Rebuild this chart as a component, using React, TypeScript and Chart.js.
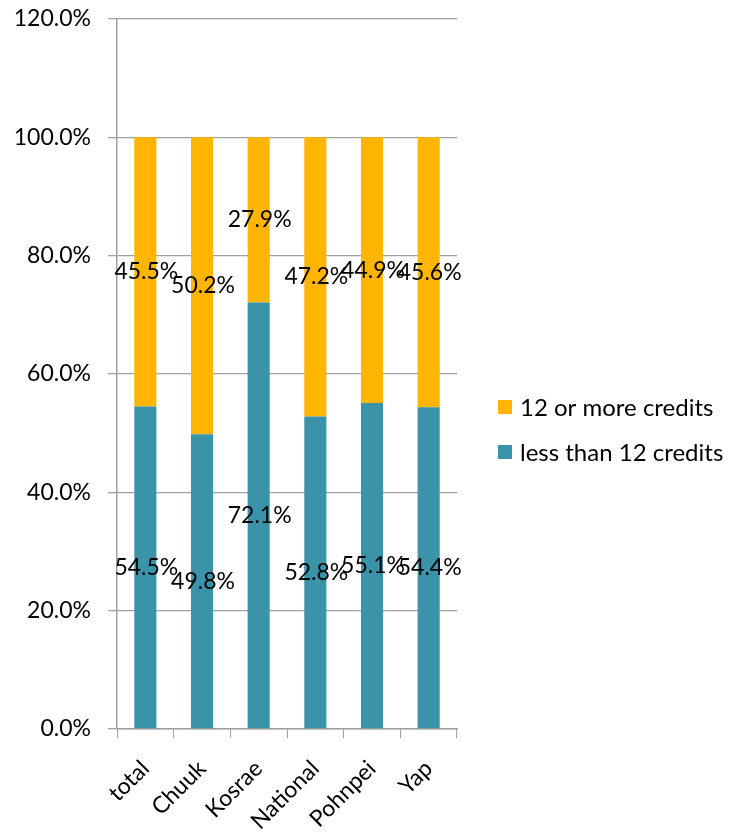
import React, { useEffect, useRef } from "react";
import { Chart, registerables } from "chart.js";

Chart.register(...registerables);

const categories = ["total", "Chuuk", "Kosrae", "National", "Pohnpei", "Yap"];
const lessThan12 = [54.5, 49.8, 72.1, 52.8, 55.1, 54.4];
const twelveOrMore = [45.5, 50.2, 27.9, 47.2, 44.9, 45.6];
const seriesNames = ["less than 12 credits", "12 or more credits"];
const seriesColors = ["#3A93A9", "#FFB502"];

const FONT = "Lato, 'Open Sans', sans-serif";
const FS = 23;

const labelPlugin = {
  id: "segLabels",
  afterDatasetsDraw(chart: any) {
    const ctx = chart.ctx;
    ctx.save();
    ctx.font = `${FS}px ${FONT}`;
    ctx.fillStyle = "#000";
    ctx.textAlign = "center";
    ctx.textBaseline = "middle";
    chart.data.datasets.forEach((ds: any, di: number) => {
      const meta = chart.getDatasetMeta(di);
      meta.data.forEach((el: any, i: number) => {
        const v = ds.data[i];
        const y = (el.y + el.base) / 2;
        ctx.fillText(v.toFixed(1) + "%", el.x + 1, y);
      });
    });
    ctx.restore();
  },
};

const legendPlugin = {
  id: "customLegend",
  afterDraw(chart: any) {
    const ctx = chart.ctx;
    ctx.save();
    ctx.font = `${FS + 1}px ${FONT}`;
    ctx.textBaseline = "middle";
    ctx.textAlign = "left";
    const items = [
      { name: seriesNames[1], color: seriesColors[1], y: 399 },
      { name: seriesNames[0], color: seriesColors[0], y: 444 },
    ];
    items.forEach((it) => {
      ctx.fillStyle = it.color;
      ctx.fillRect(490, it.y - 7, 14, 14);
      ctx.fillStyle = "#000";
      ctx.fillText(it.name, 512, it.y + 1);
    });
    ctx.restore();
  },
};

export default function App() {
  const ref = useRef<HTMLCanvasElement | null>(null);
  useEffect(() => {
    if (!ref.current) return;
    const chart = new Chart(ref.current, {
      type: "bar",
      data: {
        labels: categories,
        datasets: [
          {
            label: seriesNames[0],
            data: lessThan12,
            backgroundColor: seriesColors[0],
            barPercentage: 0.39,
            categoryPercentage: 1,
          },
          {
            label: seriesNames[1],
            data: twelveOrMore,
            backgroundColor: seriesColors[1],
            barPercentage: 0.39,
            categoryPercentage: 1,
          },
        ],
      },
      options: {
        responsive: false,
        animation: false,
        layout: { padding: { top: 11, right: 281, left: 0, bottom: 0 } },
        plugins: {
          legend: { display: false },
          tooltip: { enabled: false },
        },
        scales: {
          x: {
            stacked: true,
            grid: {
              display: true,
              drawOnChartArea: false,
              tickLength: 9,
              color: "#A0A0A0",
              offset: true,
            },
            border: { color: "#A0A0A0", width: 1.5 },
            ticks: {
              color: "#000",
              font: { family: FONT, size: FS },
              maxRotation: 45,
              minRotation: 45,
              padding: 17,
            },
            afterFit: (s: any) => {
              s.height = 100;
              s.paddingLeft = 0;
              s.paddingRight = 0;
            },
          },
          y: {
            stacked: true,
            min: 0,
            max: 120,
            ticks: {
              stepSize: 20,
              color: "#000",
              font: { family: FONT, size: FS },
              padding: 17,
              callback: (v: any) => Number(v).toFixed(1) + "%",
            },
            grid: { color: "#A0A0A0", tickLength: 9, lineWidth: 1.3 },
            border: { color: "#A0A0A0", width: 1.5 },
            afterFit: (s: any) => {
              s.width = 109;
              s.paddingTop = 0;
              s.paddingBottom = 0;
            },
          },
        },
      },
      plugins: [labelPlugin, legendPlugin],
    });
    return () => chart.destroy();
  }, []);
  return (
    <div style={{ width: 730, height: 821 }}>
      <canvas ref={ref} width={730} height={821} />
    </div>
  );
}
